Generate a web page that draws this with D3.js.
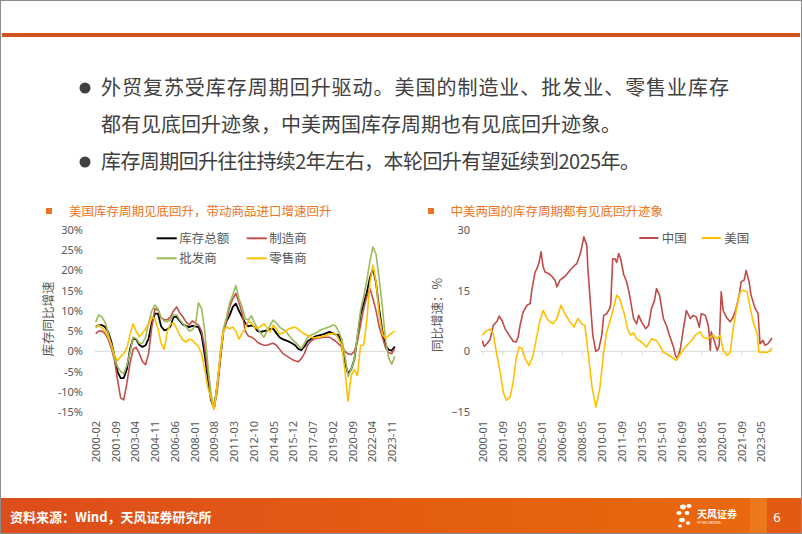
<!DOCTYPE html>
<html><head><meta charset="utf-8">
<script src="https://cdn.jsdelivr.net/npm/d3@7/dist/d3.min.js"></script>
<style>body{margin:0;background:#fff;} svg{display:block;}</style>
</head><body><svg id="c" width="802" height="534"></svg>
<script>
// ---------------- DATA ----------------
const bulletLines = [
  "外贸复苏受库存周期回升驱动。美国的制造业、批发业、零售业库存",
  "都有见底回升迹象，中美两国库存周期也有见底回升迹象。",
  "库存周期回升往往持续2年左右，本轮回升有望延续到2025年。"
];
const leftTitle = "美国库存周期见底回升，带动商品进口增速回升";
const rightTitle = "中美两国的库存周期都有见底回升迹象";
const leftSeriesNames = ["库存总额","制造商","批发商","零售商"];
const rightSeriesNames = ["中国","美国"];
const leftYTicks = [-15,-10,-5,0,5,10,15,20,25,30];
const rightYTicks = [-15,0,15,30];
const leftXTicks = ["2000-02","2001-09","2003-04","2004-11","2006-06","2008-01","2009-08","2011-03","2012-10","2014-05","2015-12","2017-07","2019-02","2020-09","2022-04","2023-11"];
const rightXTicks = ["2000-01","2001-09","2003-05","2005-01","2006-09","2008-05","2010-01","2011-09","2013-05","2015-01","2016-09","2018-05","2020-01","2021-09","2023-05"];
const leftStart = "2000-02"; // quarterly observations from this month

// US inventory YoY (%), quarterly samples from 2000-02
const usTotal = [6.0,6.5,6.5,6.0,4.8,2.5,-1.0,-5.0,-6.6,-6.6,-4.5,0.5,3.2,3.0,1.6,1.1,1.5,3.2,7.0,9.3,9.3,6.2,5.2,5.4,6.2,8.5,8.5,7.5,6.6,6.3,6.0,6.3,6.2,6.0,4.0,-1.0,-7.0,-12.0,-14.0,-8.5,-1.5,5.0,7.5,8.9,11.0,11.8,10.0,8.5,7.0,6.2,6.4,6.0,5.0,4.8,5.0,5.2,5.5,5.6,4.5,3.5,3.0,2.7,2.4,2.0,1.5,0.6,0.3,1.2,2.5,3.0,3.5,3.8,4.0,4.2,4.5,4.8,4.5,4.2,4.0,1.3,-3.0,-5.5,-4.5,-2.0,3.5,9.0,11.8,14.5,18.2,20.5,16.8,10.3,5.0,1.5,0.4,0.2,1.2];
const usManufacturing = [4.4,5.0,5.0,4.4,3.0,0.8,-2.0,-7.0,-11.5,-12.0,-8.0,-3.0,0.5,1.0,-0.5,-2.5,-3.3,-0.5,6.0,10.5,10.3,8.3,7.8,7.8,8.5,10.0,11.0,9.5,8.5,7.3,6.5,7.5,7.0,6.5,5.0,1.0,-5.0,-11.0,-14.0,-10.0,-2.0,5.0,7.5,11.0,13.0,14.3,12.0,9.5,5.0,3.8,3.5,3.0,2.2,1.8,1.5,1.5,1.8,2.0,1.5,0.5,-0.5,-1.0,-1.5,-2.0,-2.3,-2.6,-1.8,-0.5,1.5,2.5,3.0,3.3,3.3,3.5,3.5,3.5,3.0,2.5,1.8,1.0,0.0,-0.6,-0.8,0.0,2.5,6.5,10.5,13.5,15.5,13.0,10.0,6.0,3.5,1.0,-0.3,-0.6,0.8];
const usWholesale = [7.3,9.0,8.5,7.2,4.5,1.5,-1.5,-3.8,-5.0,-5.5,-3.5,-0.3,3.5,3.2,2.0,2.0,3.5,7.0,10.0,11.4,10.5,8.3,7.5,7.3,7.8,9.0,9.0,7.8,6.8,6.2,5.0,5.3,6.5,12.0,10.5,5.0,-3.5,-10.5,-14.3,-9.0,0.0,5.5,8.5,12.0,14.0,16.3,13.0,11.0,8.0,7.8,8.8,7.0,5.5,4.5,3.5,5.0,6.5,7.7,7.0,6.0,5.5,5.0,4.0,3.0,2.3,1.5,0.7,2.0,3.5,4.0,4.3,4.7,5.2,5.5,5.8,6.0,6.5,6.3,4.8,3.0,-1.2,-6.2,-4.5,-2.0,4.0,10.0,13.5,17.5,22.3,25.8,24.0,17.8,11.0,3.0,-1.5,-3.2,-1.2];
const usRetail = [6.0,6.5,5.8,5.0,3.5,1.8,-1.0,-2.3,-1.3,-0.6,0.8,4.0,6.8,5.0,3.6,4.5,5.6,6.8,8.5,8.0,5.5,2.0,0.5,5.0,6.8,7.0,5.6,4.0,2.8,2.3,3.0,2.8,1.9,1.2,-0.6,-4.5,-9.0,-11.5,-14.3,-8.0,-1.0,5.0,6.0,5.6,6.0,5.0,3.0,4.5,5.6,7.5,7.0,5.8,5.8,6.2,6.8,5.8,4.8,6.5,5.5,4.3,4.5,5.0,5.6,5.8,6.0,5.5,4.8,4.3,4.0,3.5,3.3,3.5,3.5,3.8,4.0,4.2,4.4,4.3,3.0,1.5,-5.0,-12.3,-6.0,-4.5,-6.0,1.5,1.5,7.5,17.0,21.3,17.0,9.0,4.3,3.2,3.8,4.5,5.0];

// China vs US inventory YoY (%), turning points
const chinaDates = ["2000-01","2000-03","2000-06","2000-09","2000-12","2001-04","2001-06","2001-09","2001-12","2002-04","2002-08","2002-11","2003-01","2003-03","2003-06","2003-10","2004-01","2004-03","2004-06","2004-08","2004-10","2004-12","2005-02","2005-04","2005-08","2005-11","2006-02","2006-04","2006-07","2006-12","2007-05","2007-10","2007-12","2008-04","2008-07","2008-10","2008-11","2009-02","2009-04","2009-07","2009-10","2010-01","2010-03","2010-06","2010-09","2010-10","2010-12","2011-02","2011-04","2011-06","2011-08","2011-11","2012-02","2012-05","2012-09","2012-12","2013-02","2013-05","2013-09","2013-12","2014-03","2014-06","2014-08","2014-11","2015-03","2015-06","2015-09","2016-01","2016-03","2016-05","2016-08","2016-11","2017-02","2017-06","2017-09","2017-12","2018-03","2018-05","2018-09","2018-12","2019-01","2019-02","2019-03","2019-06","2019-09","2019-11","2020-01","2020-03","2020-06","2020-10","2021-01","2021-04","2021-07","2021-09","2021-12","2022-02","2022-05","2022-07","2022-11","2023-02","2023-04","2023-07","2023-09","2023-12","2024-04"];
const chinaValues = [2.7,1.2,2.0,3.0,6.4,7.5,8.7,7.5,5.5,4.0,2.5,2.3,3.5,6.4,9.7,11.4,11.8,15.5,19.6,20.5,22.0,24.6,21.0,19.6,19.2,18.5,17.6,15.9,17.6,18.5,20.0,21.3,21.7,24.6,28.3,26.2,20.5,10.4,4.0,0.0,0.5,4.0,8.9,9.3,10.6,11.5,22.9,22.9,22.0,24.2,22.9,19.0,17.2,13.9,8.1,6.8,8.9,7.3,5.6,6.4,10.6,12.6,15.5,13.9,8.1,6.4,4.0,1.1,-1.0,-1.8,0.7,5.6,10.1,8.1,8.9,8.5,6.0,9.3,8.9,6.4,4.0,0.2,4.8,2.7,0.2,1.5,14.7,10.1,8.5,7.3,8.5,10.6,13.9,17.2,17.6,20.0,17.2,13.9,10.6,9.3,1.9,2.7,1.5,1.9,3.3];
const usDates = ["2000-01","2000-05","2000-09","2000-12","2001-03","2001-07","2001-10","2002-01","2002-05","2002-08","2002-11","2003-02","2003-05","2003-08","2003-12","2004-04","2004-08","2004-11","2005-02","2005-07","2005-12","2006-04","2006-08","2006-12","2007-05","2007-09","2008-01","2008-05","2008-08","2008-12","2009-03","2009-07","2009-11","2010-03","2010-06","2010-11","2011-04","2011-07","2011-12","2012-03","2012-06","2012-09","2012-12","2013-05","2013-10","2014-03","2014-08","2014-12","2015-03","2015-06","2015-11","2016-04","2016-08","2017-01","2017-06","2017-11","2018-04","2018-07","2018-11","2019-02","2019-05","2019-09","2019-12","2020-03","2020-07","2020-10","2021-01","2021-05","2021-08","2021-11","2022-03","2022-06","2022-09","2023-01","2023-03","2023-07","2023-11","2024-02","2024-04"];
const usValues = [4.0,5.0,5.5,4.4,0.0,-5.1,-10.0,-12.1,-11.3,-7.6,-1.8,1.1,0.7,-1.8,-3.5,-1.0,4.0,7.7,10.1,7.7,6.8,8.1,11.4,9.3,7.3,6.0,8.1,6.8,6.4,-1.8,-8.4,-13.8,-9.2,-0.2,4.8,8.9,13.9,13.0,8.9,5.5,4.0,4.6,3.1,2.3,1.1,3.1,2.7,1.1,-0.2,-0.6,-1.4,-2.2,-0.6,1.1,2.3,4.0,4.8,3.5,3.1,3.5,4.0,3.1,4.0,0.2,-1.0,-0.2,5.6,11.4,14.7,15.1,14.7,11.0,7.3,4.4,-0.2,-0.2,-0.3,0.2,0.8];

// ---------------- DRAW ----------------
const svg = d3.select("#c");
const W = 802, H = 534;
const CJK = "'Noto Sans CJK SC','Noto Sans',sans-serif";
const parse = d3.timeParse("%Y-%m");
const grayText = "#595959";

svg.append("rect").attr("width", W).attr("height", H).attr("fill", "#fff");
svg.append("rect").attr("x",0.5).attr("y",0.5).attr("width",W-1).attr("height",H-1)
   .attr("fill","none").attr("stroke","#8c8c8c").attr("stroke-width",1);
// top orange rule
svg.append("rect").attr("x",2).attr("y",33).attr("width",798).attr("height",4).attr("fill","#D2531F");

// bullets
const bl = svg.append("g").attr("font-family", CJK).attr("font-size", 20).attr("fill", "#404040");
[[88,0,628],[125,1,null],[162,2,539]].forEach(([y,i,len]) => {
  const t = bl.append("text").attr("x",101).attr("y",y).attr("dy","0.36em").text(bulletLines[i]);
  if (len) t.attr("textLength", len).attr("lengthAdjust","spacing");
});
[88,162].forEach(y => bl.append("circle").attr("cx",85).attr("cy",y).attr("r",5.5).attr("fill","#404040"));

// chart titles
const orange = "#EE7422";
function title(x, tx, text) {
  svg.append("rect").attr("x",x).attr("y",208).attr("width",6).attr("height",6).attr("fill",orange);
  svg.append("text").attr("x",tx).attr("y",211).attr("dy","0.36em").attr("font-family",CJK)
     .attr("font-size",12.5).attr("fill",orange).text(text);
}
title(46, 69, leftTitle);
title(428, 450.5, rightTitle);

// ---------- LEFT CHART ----------
const lx = d3.scaleTime().domain([parse(leftXTicks[0]), parse(leftXTicks[leftXTicks.length-1])]).range([95.7, 391.7]);
const ly = d3.scaleLinear().domain([-15, 30]).range([412, 230]);
const leftDates = usTotal.map((d,i) => d3.timeMonth.offset(parse(leftStart), i*3));

svg.append("line").attr("x1",95).attr("x2",399).attr("y1",ly(0)).attr("y2",ly(0))
   .attr("stroke","#D9D9D9").attr("stroke-width",1);

const lyAxis = svg.append("g").attr("transform","translate(85,0)")
  .call(d3.axisLeft(ly).tickValues(leftYTicks).tickFormat(d => d + "%").tickSize(0).tickPadding(2));
lyAxis.select(".domain").remove();
lyAxis.selectAll("text").attr("font-family","'Noto Sans',sans-serif").attr("font-size",11).attr("fill",grayText);

const lxAxis = svg.append("g").attr("transform","translate(0,421)")
  .call(d3.axisBottom(lx).tickValues(leftXTicks.map(parse)).tickFormat(d3.timeFormat("%Y-%m")).tickSize(0));
lxAxis.select(".domain").remove();
lxAxis.selectAll("text").attr("transform","rotate(-90)").attr("x",0).attr("y",0).attr("dy","0.35em")
  .attr("text-anchor","end").attr("font-family","'Noto Sans',sans-serif").attr("font-size",11).attr("fill",grayText);

svg.append("text").attr("transform","translate(48,319) rotate(-90)").attr("text-anchor","middle")
  .attr("dy","0.36em").attr("font-family",CJK).attr("font-size",12.5).attr("fill",grayText).text("库存同比增速");

const leftColors = ["#000000","#C0504D","#9BBB59","#FFC000"];
const leftData = [usTotal, usManufacturing, usWholesale, usRetail];
const lline = d3.line().x((d,i) => lx(leftDates[i])).y(d => ly(d)).curve(d3.curveLinear);
leftData.forEach((s,k) => {
  svg.append("path").attr("d", lline(s)).attr("fill","none").attr("stroke",leftColors[k])
     .attr("stroke-width", k===0 ? 1.8 : 1.6).attr("stroke-linejoin","round");
});

// left legend
const leg = [[156.7,238.3,0],[246.7,238.3,1],[156.7,258.3,2],[246.7,258.3,3]];
leg.forEach(([x,y,k]) => {
  svg.append("line").attr("x1",x).attr("x2",x+20).attr("y1",y).attr("y2",y).attr("stroke",leftColors[k]).attr("stroke-width",2);
  svg.append("text").attr("x",x+22.5).attr("y",y).attr("dy","0.36em").attr("font-family",CJK)
     .attr("font-size",12.5).attr("fill",grayText).text(leftSeriesNames[k]);
});

// ---------- RIGHT CHART ----------
const rx = d3.scaleTime().domain([parse(rightXTicks[0]), parse(rightXTicks[rightXTicks.length-1])]).range([482.3, 761]);
const ry = d3.scaleLinear().domain([-15, 30]).range([412, 230]);

const rAxis = svg.append("g").attr("transform",`translate(0,${ry(0)})`)
  .call(d3.axisBottom(rx).tickValues(rightXTicks.map(parse)).tickFormat("").tickSize(4).tickSizeOuter(0));
rAxis.select(".domain").remove();
rAxis.selectAll("line").attr("stroke","#D9D9D9");
svg.append("line").attr("x1",481).attr("x2",773).attr("y1",ry(0)).attr("y2",ry(0)).attr("stroke","#D9D9D9");

const rxLab = svg.append("g").attr("transform","translate(0,421)")
  .call(d3.axisBottom(rx).tickValues(rightXTicks.map(parse)).tickFormat(d3.timeFormat("%Y-%m")).tickSize(0));
rxLab.select(".domain").remove();
rxLab.selectAll("text").attr("transform","rotate(-90)").attr("x",0).attr("y",0).attr("dy","0.35em")
  .attr("text-anchor","end").attr("font-family","'Noto Sans',sans-serif").attr("font-size",11).attr("fill",grayText);

const ryAxis = svg.append("g").attr("transform","translate(472,0)")
  .call(d3.axisLeft(ry).tickValues(rightYTicks).tickSize(0).tickPadding(2));
ryAxis.select(".domain").remove();
ryAxis.selectAll("text").attr("font-family","'Noto Sans',sans-serif").attr("font-size",11).attr("fill",grayText);

svg.append("text").attr("transform","translate(437,315) rotate(-90)").attr("text-anchor","middle")
  .attr("dy","0.36em").attr("font-family",CJK).attr("font-size",12.5).attr("fill",grayText).text("同比增速：%");

const rightColors = ["#BE4B48","#FFC000"];
const rline = d3.line().x(d => rx(parse(d[0]))).y(d => ry(d[1]));
svg.append("path").attr("d", rline(d3.zip(chinaDates, chinaValues))).attr("fill","none")
   .attr("stroke",rightColors[0]).attr("stroke-width",1.6).attr("stroke-linejoin","round");
svg.append("path").attr("d", rline(d3.zip(usDates, usValues))).attr("fill","none")
   .attr("stroke",rightColors[1]).attr("stroke-width",1.6).attr("stroke-linejoin","round");

[[639.3,0],[701.7,1]].forEach(([x,k]) => {
  svg.append("line").attr("x1",x).attr("x2",x+19).attr("y1",238).attr("y2",238).attr("stroke",rightColors[k]).attr("stroke-width",2);
  svg.append("text").attr("x",x+22.5).attr("y",238).attr("dy","0.36em").attr("font-family",CJK)
     .attr("font-size",12.5).attr("fill",grayText).text(rightSeriesNames[k]);
});

// ---------- FOOTER ----------
const defs = svg.append("defs");
const grad = defs.append("linearGradient").attr("id","fg").attr("x1","0").attr("x2","1").attr("y1","0").attr("y2","0");
grad.append("stop").attr("offset","0").attr("stop-color","#DD4C1C");
grad.append("stop").attr("offset","0.6").attr("stop-color","#E5600F");
grad.append("stop").attr("offset","1").attr("stop-color","#EA6A0E");
svg.append("rect").attr("x",1).attr("y",498).attr("width",800).attr("height",35).attr("fill","url(#fg)");
svg.append("rect").attr("x",750).attr("y",498).attr("width",17).attr("height",35).attr("fill","#EE7A22").attr("opacity",0.8);
svg.append("rect").attr("x",767).attr("y",498).attr("width",34).attr("height",35).attr("fill","#E35A12");
svg.append("text").attr("x",10).attr("y",517).attr("dy","0.36em").attr("font-family",CJK).attr("font-weight","bold")
  .attr("font-size",13).attr("fill","#fff").text("资料来源：Wind，天风证券研究所");
// logo
const lg = svg.append("g").attr("fill","#fff");
[[683,507,3],[689,506,2.6],[679,513,2.6],[687,513,2.4],[682,520,2.8],[688,523,2.2],[680,526,2]].forEach(([cx,cy,r]) =>
  lg.append("ellipse").attr("cx",cx).attr("cy",cy).attr("rx",r).attr("ry",r*0.8));
lg.append("text").attr("x",697).attr("y",514).attr("dy","0.36em").attr("font-family",CJK).attr("font-weight","bold")
  .attr("font-size",10).text("天风证券");
lg.append("text").attr("x",697).attr("y",523).attr("dy","0.36em").attr("font-family","'Noto Sans',sans-serif")
  .attr("font-size",3.5).text("TF SECURITIES");
svg.append("text").attr("x",777).attr("y",517).attr("dy","0.36em").attr("text-anchor","middle")
  .attr("font-family","'Noto Sans',sans-serif").attr("font-size",13).attr("fill","#fff").text("6");
</script></body></html>
